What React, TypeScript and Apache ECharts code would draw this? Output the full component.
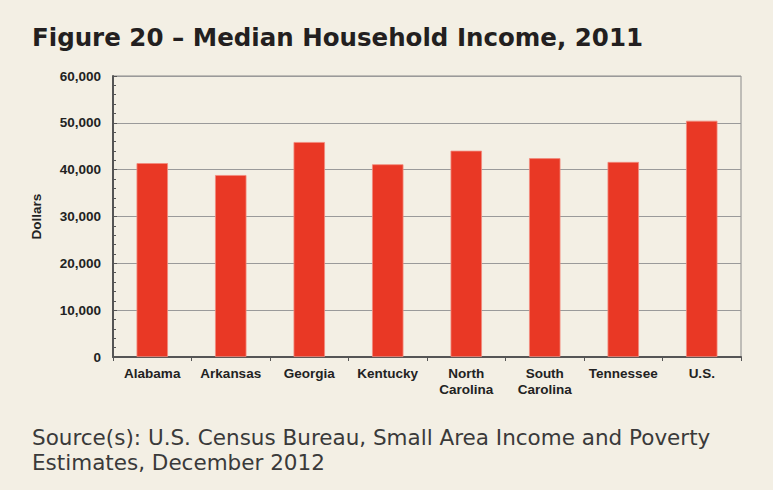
import React, { useEffect, useRef } from "react";
import * as echarts from "echarts";

const categories = ["Alabama", "Arkansas", "Georgia", "Kentucky", "North\nCarolina", "South\nCarolina", "Tennessee", "U.S."];
const incomeValues = [41400, 38850, 45900, 41150, 44050, 42450, 41650, 50450];
const yTicks = [0, 10000, 20000, 30000, 40000, 50000, 60000];
const titleText = "Figure 20 – Median Household Income, 2011";
const sourceText = "Source(s): U.S. Census Bureau, Small Area Income and Poverty\nEstimates, December 2012";
const yAxisName = "Dollars";

export default function App() {
  const ref = useRef<HTMLDivElement>(null);
  useEffect(() => {
    document.body.style.margin = "0";
    const chart = echarts.init(ref.current!, null, { renderer: "svg" });
    const fmt = (v: number) => v.toLocaleString("en-US");
    chart.setOption({
      animation: false,
      backgroundColor: "#f3efe4",
      title: [
        {
          text: titleText,
          left: 27,
          top: 20,
          textStyle: { fontFamily: "DejaVu Sans", fontWeight: "bold", fontSize: 24.5, color: "#231f20" },
        },
        {
          text: sourceText,
          left: 27,
          top: 420,
          textStyle: { fontFamily: "DejaVu Sans", fontWeight: "normal", fontSize: 21.5, color: "#3a3a3a", lineHeight: 25 },
        },
      ],
      grid: { left: 113, right: 32, top: 76, bottom: 133, show: true, borderColor: "#8a8a8a", borderWidth: 1, backgroundColor: "transparent" },
      xAxis: {
        type: "category",
        data: categories,
        axisLine: { show: true, lineStyle: { color: "#555", width: 2 } },
        axisTick: { show: true, length: 4, interval: 0, lineStyle: { color: "#555" } },
        axisLabel: { interval: 0, fontFamily: "Liberation Sans", fontWeight: "bold", fontSize: 13.5, color: "#222", margin: 8, lineHeight: 16 },
      },
      yAxis: {
        type: "value",
        min: yTicks[0],
        max: yTicks[yTicks.length - 1],
        interval: 10000,
        name: yAxisName,
        nameLocation: "middle",
        nameGap: 70,
        nameTextStyle: { fontFamily: "Liberation Sans", fontWeight: "bold", fontSize: 13.5, color: "#222" },
        axisLine: { show: true, lineStyle: { color: "#555", width: 2 } },
        axisTick: { show: true, inside: true, length: 4, lineStyle: { color: "#555" } },
        minorTick: { show: true, splitNumber: 5, length: 3, lineStyle: { color: "#555" } },
        splitLine: { show: true, lineStyle: { color: "#9a9a9a", width: 1 } },
        axisLabel: { fontFamily: "Liberation Sans", fontWeight: "bold", fontSize: 13.5, color: "#222", margin: 12, formatter: fmt },
      },
      series: [
        {
          type: "bar",
          data: incomeValues,
          barWidth: "40%",
          itemStyle: { color: "#e93825", borderColor: "#f28a7c", borderWidth: 0.8 },
        },
      ],
    });
    return () => chart.dispose();
  }, []);
  return <div ref={ref} style={{ width: 773, height: 490, position: "fixed", left: 0, top: 0 }} />;
}
